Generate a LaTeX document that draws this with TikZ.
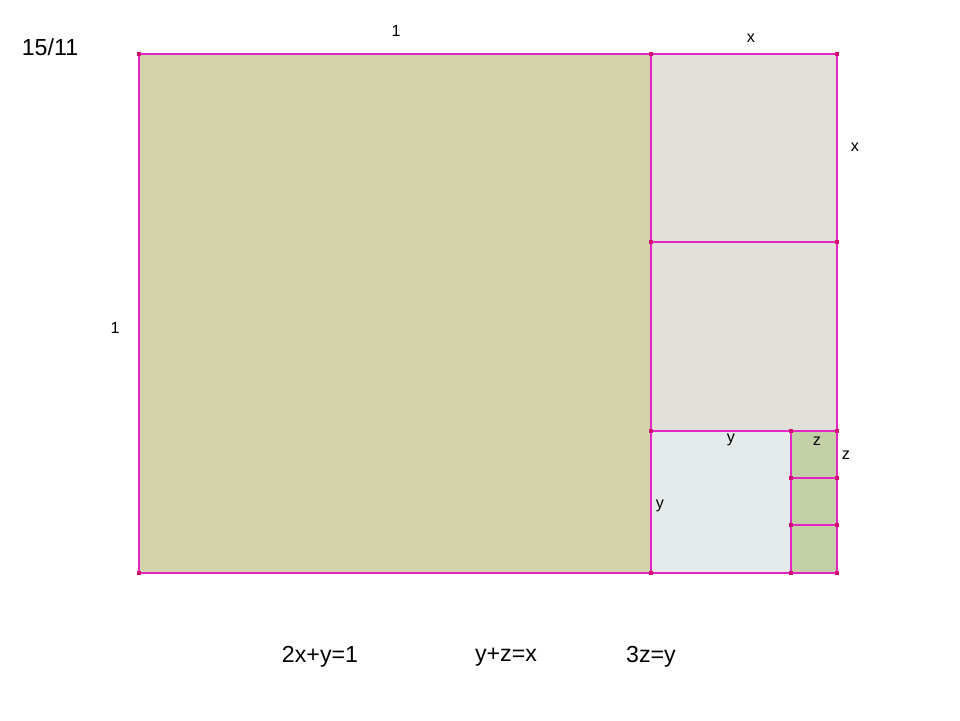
\documentclass[tikz,border=0pt]{standalone}
\usepackage{fontspec}
\setmainfont{Liberation Sans}
\usetikzlibrary{calc}

\definecolor{bigsq}{HTML}{D3D3AA}
\definecolor{xsq}{HTML}{E1E0D9}
\definecolor{ysq}{HTML}{E5EAEA}
\definecolor{zsq}{HTML}{C3CFA6}
\definecolor{edge}{HTML}{E424C4}
\definecolor{corner}{HTML}{D0106E}

\begin{document}
\begin{tikzpicture}[x=0.25mm, y=-0.25mm,
    side/.style={font=\fontsize{11.5}{13}\selectfont},
    eqn/.style={font=\fontsize{16.5}{19}\selectfont}]

    % Fix the page to the size of the figure
    \useasboundingbox (0, 0) rectangle (960, 720);

    % Define the corners of the squares
    \coordinate (A) at (139, 54);
    \coordinate (B) at (651, 54);
    \coordinate (C) at (837, 54);
    \coordinate (D) at (651, 242);
    \coordinate (E) at (837, 242);
    \coordinate (F) at (651, 431);
    \coordinate (G) at (791, 431);
    \coordinate (H) at (837, 431);
    \coordinate (I) at (791, 478);
    \coordinate (J) at (837, 478);
    \coordinate (K) at (791, 525);
    \coordinate (L) at (837, 525);
    \coordinate (M) at (139, 573);
    \coordinate (N) at (651, 573);
    \coordinate (O) at (791, 573);
    \coordinate (P) at (837, 573);

    % Fill the squares
    \fill[bigsq] (A) rectangle (N);
    \fill[xsq] (B) rectangle (E);
    \fill[xsq] (D) rectangle (H);
    \fill[ysq] (F) rectangle (O);
    \fill[zsq] (G) rectangle (P);

    % Draw the edges
    \draw[edge, thick] (A) rectangle (P);
    \draw[edge, thick] (B) -- (N);
    \draw[edge, thick] (D) -- (E);
    \draw[edge, thick] (F) -- (H);
    \draw[edge, thick] (G) -- (O);
    \draw[edge, thick] (I) -- (J);
    \draw[edge, thick] (K) -- (L);

    % Mark the corners
    \foreach \point in {A, B, C, D, E, F, G, H, I, J, K, L, M, N, O, P}
        \fill[corner] ($(\point)+(-1.6, -1.6)$) rectangle ($(\point)+(1.6, 1.6)$);

    % Side lengths
    \node[side] at (396, 31) {1};
    \node[side] at (115, 328) {1};
    \node[side] at (751, 38) {x};
    \node[side] at (855, 147) {x};
    \node[side] at (731, 440) {y};
    \node[side] at (660, 506) {y};
    \node[side] at (817, 441) {z};
    \node[side] at (846, 455) {z};

    % Ratio and equations
    \node[eqn] at (50, 47) {15/11};
    \node[eqn] at (320, 657) {2x+y=1};
    \node[eqn] at (506, 657) {y+z=x};
    \node[eqn] at (651, 657) {3z=y};

\end{tikzpicture}
\end{document}
